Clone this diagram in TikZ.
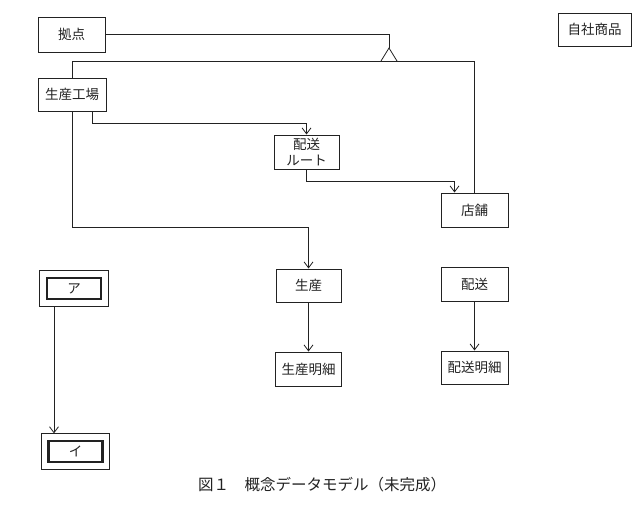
\documentclass[tikz,border=0pt]{standalone}
\usepackage{fontspec}
\setmainfont{Noto Sans CJK JP}
\usetikzlibrary{arrows.meta,fit}
\definecolor{ink}{HTML}{222222}
\tikzset{
  ent/.style={draw=ink,line width=1pt,inner sep=0pt,text=ink,font=\fontsize{13.5}{16}\selectfont,align=center},
  inner/.style={draw=ink,line width=2.2pt,inner sep=0pt,text=ink,font=\fontsize{13.5}{16}\selectfont,minimum width=54,minimum height=21},
  conn/.style={draw=ink,line width=0.8pt},
  arr/.style={conn,-{Straight Barb[length=6pt,width=9pt,line width=0.8pt]}}
}
\begin{document}
\begin{tikzpicture}[x=1pt,y=-1pt]
\useasboundingbox (0,0) rectangle (639,509);
\node[ent,minimum width=67,minimum height=35] (kyoten) at (71.5,34.5) {拠点};
\node[ent,minimum width=68,minimum height=33] (koujou) at (72,94.5) {生産工場};
\node[ent,minimum width=65,minimum height=34] (route) at (306.5,152) {配送\\ルート};
\node[ent,minimum width=67,minimum height=34] (tenpo) at (474.5,210) {店舗};
\node[ent,minimum width=65,minimum height=33] (seisan) at (308.5,285.5) {生産};
\node[ent,minimum width=66,minimum height=34] (seisanm) at (308.5,369) {生産明細};
\node[ent,minimum width=67,minimum height=34] (haisou) at (474.5,284) {配送};
\node[ent,minimum width=67,minimum height=33] (haisoum) at (474.5,367.5) {配送明細};
\node[ent,minimum width=73,minimum height=33] (jisha) at (594.5,29.5) {自社商品};
\node[inner] (a) at (74,288.5) {ア};
\node[draw=ink,line width=1pt,fit=(a),inner sep=6pt] (ao) {};
\node[inner] (i) at (75.5,451.5) {イ};
\node[draw=ink,line width=1pt,fit=(i),inner sep=6pt] (io) {};
\node[text=ink,font=\fontsize{15.5}{18}\selectfont] (cap) at (322,485) {図１　概念データモデル（未完成）};
% supertype / subtype
\coordinate (apex) at (389,48);
\coordinate (bar) at (0,61);
\draw[conn] (kyoten.east) -| (apex);
\draw[conn] (381,61) -- (apex) -- (397,61);
\draw[conn] (koujou.north) |- (bar -| tenpo.north) -- (tenpo.north);
% relationships
\draw[arr] ([xshift=20pt]koujou.south) -- ++(0,12) -| (route.north);
\draw[arr] (route.south) -- ++(0,12) -| ([xshift=-20pt]tenpo.north);
\draw[arr] (koujou.south) -- ++(0,116) -| (seisan.north);
\draw[arr] (seisan.south) -- (seisan.south |- seisanm.north);
\draw[arr] (haisou.south) -- (haisou.south |- haisoum.north);
\draw[arr] ([xshift=-20pt]ao.south) -- ([xshift=-20pt]ao.south |- io.north);
\end{tikzpicture}
\end{document}
